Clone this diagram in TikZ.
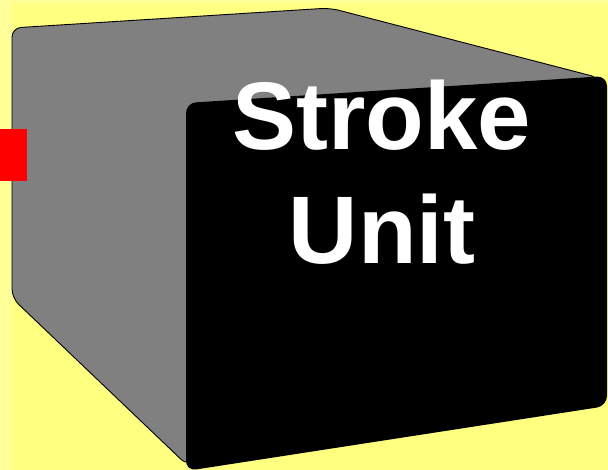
\documentclass[tikz,border=0pt]{standalone}
\usepackage{fontspec}
\setmainfont{Liberation Sans}
\definecolor{bgpale}{HTML}{FFFF99}
\definecolor{bgyel}{HTML}{FFFF80}
\definecolor{sidegray}{HTML}{808080}
\definecolor{markred}{HTML}{FF0000}
\tikzset{
  sideface/.style={fill=sidegray, draw=black, line width=0.9pt, rounded corners=9pt},
  frontface/.style={fill=black, rounded corners=10pt},
  labeltext/.style={text=white, font=\fontsize{96}{114}\selectfont\bfseries, align=center}
}
\begin{document}
\begin{tikzpicture}[x=1pt,y=-1pt]
\useasboundingbox (0,0) rectangle (608,470);
\fill[bgpale] (0,0) rectangle (608,470);
\fill[bgyel] (12,3) rectangle (608,470);
% side / top of box
\path[sideface] (12,160) -- (12,28) -- (330,8) -- (600,78) -- (400,250) -- (188,466) -- (12,298) -- cycle;
% front face
\path[frontface] (186,103) -- (607,76) -- (607,406) -- (186,471) -- cycle;
% red marker
\node[fill=markred, minimum width=27pt, minimum height=52pt, inner sep=0pt, anchor=north west] (mark) at (0,129) {};
% label
\node[labeltext] (label) at (382,172) {Stroke\\Unit};
\end{tikzpicture}
\end{document}
